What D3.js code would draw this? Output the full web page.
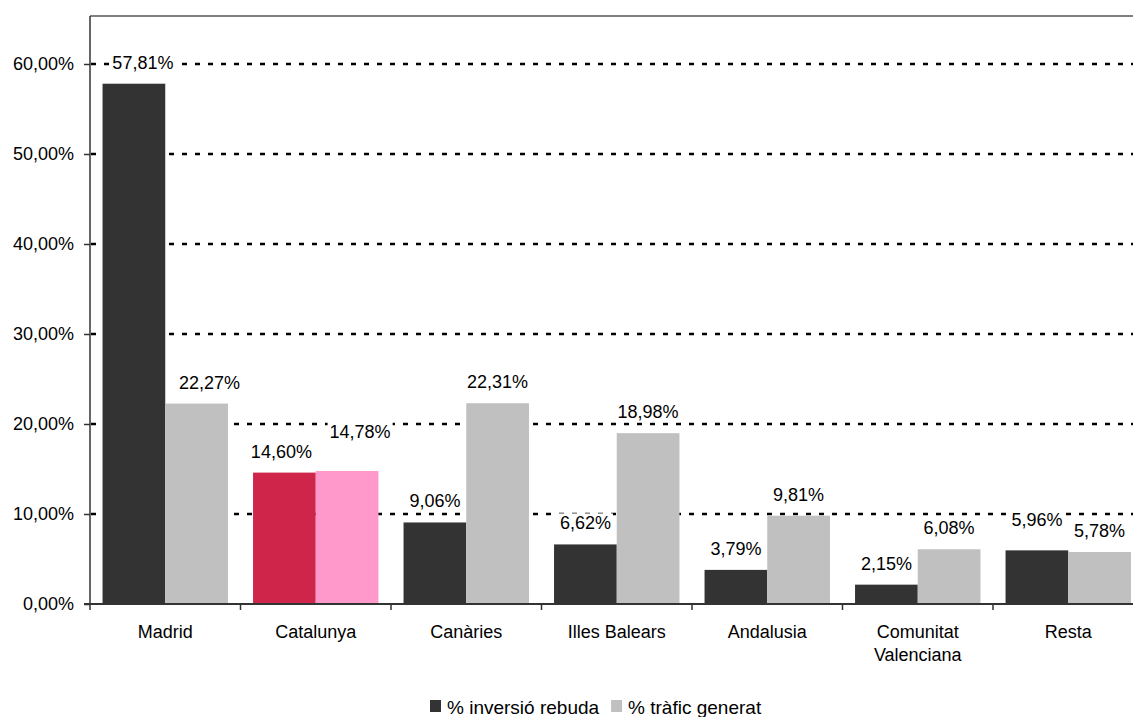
<!DOCTYPE html>
<html>
<head>
<meta charset="utf-8">
<script src="https://cdn.jsdelivr.net/npm/d3@7"></script>
<style>
  html, body { margin: 0; padding: 0; background: #fff; }
  svg { display: block; font-family: "Liberation Sans", Arial, sans-serif; }
</style>
</head>
<body>
<div id="chart"></div>
<script>
// data
var categories = ['Madrid', 'Catalunya', 'Canàries', 'Illes Balears', 'Andalusia', 'Comunitat Valenciana', 'Resta'];
var inversio = [57.81, 14.60, 9.06, 6.62, 3.79, 2.15, 5.96];
var trafic = [22.27, 14.78, 22.31, 18.98, 9.81, 6.08, 5.78];
var seriesNames = ['% inversió rebuda', '% tràfic generat'];
var yTicks = [0, 10, 20, 30, 40, 50, 60];

// colours: Catalunya is highlighted
var COLORS = [
  { base: '#333333', highlight: '#d0254a' },
  { base: '#c0c0c0', highlight: '#ff99cc' }
];
var HIGHLIGHT = 'Catalunya';

// labels that Excel nudged away from the default spot
var LABEL_NUDGE = {
  'Madrid|0': [9, 0],
  'Madrid|1': [13, 0],
  'Catalunya|0': [-3, 0],
  'Catalunya|1': [13, 18],
  'Resta|0': [0, 9]
};

var W = 1133, H = 717;
var MARGIN = { top: 16, left: 90 };
var GROUP_W = 150.5;
var BASE_Y = 604;

var svg = d3.select('#chart').append('svg')
  .attr('width', W)
  .attr('height', H)
  .style('overflow', 'hidden');

var x = d3.scaleBand()
  .domain(categories)
  .range([MARGIN.left, MARGIN.left + GROUP_W * categories.length])
  .padding(0);

var xInner = d3.scaleBand()
  .domain([0, 1])
  .range([0, x.bandwidth()])
  .paddingInner(0)
  .paddingOuter(0.2);

var y = d3.scaleLinear().domain([0, 60]).range([BASE_Y, 64]);

// top border of plot area
svg.append('line')
  .attr('x1', MARGIN.left).attr('x2', W)
  .attr('y1', MARGIN.top).attr('y2', MARGIN.top)
  .attr('stroke', '#808080').attr('stroke-width', 2);

// dotted gridlines
svg.append('g').selectAll('line')
  .data(yTicks.filter(function (d) { return d > 0; }))
  .join('line')
  .attr('x1', MARGIN.left + 1).attr('x2', W)
  .attr('y1', function (d) { return y(d); })
  .attr('y2', function (d) { return y(d); })
  .attr('stroke', '#000')
  .attr('stroke-width', 2.5)
  .attr('stroke-dasharray', '5,8');

// bars
var rows = [];
categories.forEach(function (c, i) {
  [inversio[i], trafic[i]].forEach(function (v, s) {
    rows.push({ cat: c, s: s, v: v });
  });
});

svg.append('g').selectAll('rect')
  .data(rows)
  .join('rect')
  .attr('x', function (d) { return x(d.cat) + xInner(d.s); })
  .attr('width', xInner.bandwidth())
  .attr('y', function (d) { return y(d.v); })
  .attr('height', function (d) { return BASE_Y - y(d.v); })
  .attr('fill', function (d) {
    return d.cat === HIGHLIGHT ? COLORS[d.s].highlight : COLORS[d.s].base;
  });

// value labels with white background
var fmt = function (v) { return v.toFixed(2).replace('.', ',') + '%'; };
var labels = svg.append('g').selectAll('g')
  .data(rows)
  .join('g')
  .attr('transform', function (d) {
    var n = LABEL_NUDGE[d.cat + '|' + d.s] || [0, 0];
    var cx = x(d.cat) + xInner(d.s) + xInner.bandwidth() / 2 + n[0];
    return 'translate(' + cx + ',' + (y(d.v) - 15 - n[1]) + ')';
  });

labels.append('text')
  .attr('text-anchor', 'middle')
  .attr('font-size', 18)
  .attr('fill', '#000')
  .text(function (d) { return fmt(d.v); });

labels.each(function () {
  var g = d3.select(this);
  var bb = g.select('text').node().getBBox();
  g.insert('rect', 'text')
    .attr('x', bb.x - 2).attr('y', bb.y)
    .attr('width', bb.width + 4).attr('height', bb.height)
    .attr('fill', '#fff');
});

// y axis
var yAxis = svg.append('g')
  .attr('transform', 'translate(' + MARGIN.left + ',0)')
  .call(d3.axisLeft(y)
    .tickValues(yTicks)
    .tickSizeInner(6)
    .tickSizeOuter(0)
    .tickPadding(10)
    .tickFormat(function (d) { return d.toFixed(2).replace('.', ',') + '%'; }));
yAxis.select('.domain').remove();
yAxis.selectAll('line').attr('stroke', '#333').attr('stroke-width', 1.5);
yAxis.selectAll('text').attr('font-size', 18).attr('fill', '#000')
  .attr('font-family', '"Liberation Sans", Arial, sans-serif');
svg.append('line')
  .attr('x1', MARGIN.left).attr('x2', MARGIN.left)
  .attr('y1', MARGIN.top).attr('y2', BASE_Y + 6)
  .attr('stroke', '#333').attr('stroke-width', 1.5);

// x axis
svg.append('line')
  .attr('x1', MARGIN.left - 6).attr('x2', W)
  .attr('y1', BASE_Y).attr('y2', BASE_Y)
  .attr('stroke', '#333').attr('stroke-width', 2);

svg.append('g').selectAll('line')
  .data(categories.slice(1))
  .join('line')
  .attr('x1', function (d) { return x(d); })
  .attr('x2', function (d) { return x(d); })
  .attr('y1', BASE_Y).attr('y2', BASE_Y + 6)
  .attr('stroke', '#333').attr('stroke-width', 1.5);

// category labels, wrapped
svg.append('g').selectAll('text')
  .data(categories)
  .join('text')
  .attr('text-anchor', 'middle')
  .attr('font-size', 18)
  .attr('fill', '#000')
  .attr('x', function (d) { return x(d) + x.bandwidth() / 2; })
  .attr('y', 638)
  .each(function (d) {
    var t = d3.select(this);
    var words = d.split(' ');
    var lines = [];
    var line = '';
    words.forEach(function (w) {
      var test = line ? line + ' ' + w : w;
      t.text(test);
      if (line && t.node().getComputedTextLength() > 135) {
        lines.push(line);
        line = w;
      } else {
        line = test;
      }
    });
    lines.push(line);
    t.text(null);
    lines.forEach(function (l, i) {
      t.append('tspan')
        .attr('x', x(d) + x.bandwidth() / 2)
        .attr('dy', i === 0 ? 0 : 23)
        .text(l);
    });
  });

// legend
var legend = svg.append('g').attr('transform', 'translate(430,700)');
var lx = 0;
seriesNames.forEach(function (name, i) {
  var item = legend.append('g').attr('transform', 'translate(' + lx + ',0)');
  item.append('rect')
    .attr('width', 11).attr('height', 12)
    .attr('fill', COLORS[i].base);
  var t = item.append('text')
    .attr('x', 17).attr('y', 14)
    .attr('font-size', 19)
    .attr('fill', '#000')
    .text(name);
  lx += 17 + t.node().getComputedTextLength() + 12;
});
</script>
</body>
</html>
